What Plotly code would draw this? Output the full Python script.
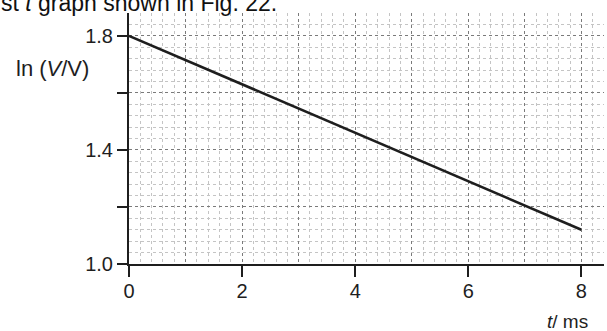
import plotly.graph_objects as go

# straight-line fit of ln(V/V) against time
t_ms = [0, 8]
ln_v = [1.80, 1.12]

x_ticks = [0, 2, 4, 6, 8]
y_ticks = [1.0, 1.2, 1.4, 1.6, 1.8]
y_tick_text = ["1.0", "", "1.4", "", "1.8"]

X_RANGE = [0, 8.4]
Y_RANGE = [1.0, 1.88]

W, H = 607, 331
L, R, T, B = 129, 3, 13, 67
FONT = "Liberation Sans, Arial, Helvetica, sans-serif"
INK = "#1e1e1e"


def px_x(p):
    return (p - L) / (W - L - R)


def px_y(p):
    return (H - B - p) / (H - T - B)


fig = go.Figure()
fig.add_trace(go.Scatter(
    x=t_ms, y=ln_v, mode="lines",
    line=dict(color=INK, width=2.6),
    showlegend=False, hoverinfo="skip",
))
# empty trace so the labelled overlay axes are drawn
fig.add_trace(go.Scatter(x=[], y=[], xaxis="x2", yaxis="y2",
                         showlegend=False, hoverinfo="skip"))

grid_major = "#7a7a7a"
grid_minor = "#c4c4c4"

fig.update_layout(
    width=W, height=H,
    margin=dict(l=L, r=R, t=T, b=B),
    paper_bgcolor="white", plot_bgcolor="white",
    font=dict(family=FONT, size=20, color=INK),
    xaxis=dict(
        range=X_RANGE, dtick=1, tick0=0,
        showgrid=True, gridcolor=grid_major, gridwidth=1, griddash="dot",
        minor=dict(dtick=0.2, tick0=0, showgrid=True, gridcolor=grid_minor,
                   gridwidth=1, griddash="dot"),
        showticklabels=False, ticks="", zeroline=False, showline=False,
    ),
    yaxis=dict(
        range=Y_RANGE, dtick=0.2, tick0=1.0,
        showgrid=True, gridcolor=grid_major, gridwidth=1, griddash="dot",
        minor=dict(dtick=0.04, tick0=1.0, showgrid=True, gridcolor=grid_minor,
                   gridwidth=1, griddash="dot"),
        showticklabels=False, ticks="", zeroline=False, showline=False,
    ),
    xaxis2=dict(
        overlaying="x", anchor="y2", range=X_RANGE,
        tickmode="array", tickvals=x_ticks,
        ticks="outside", ticklen=11, tickwidth=2, tickcolor=INK,
        ticklabelstandoff=-3,
        showline=True, linecolor=INK, linewidth=2,
        showgrid=False, zeroline=False,
        tickfont=dict(family=FONT, size=20, color=INK),
    ),
    yaxis2=dict(
        overlaying="y", anchor="x2", range=Y_RANGE,
        tickmode="array", tickvals=y_ticks, ticktext=y_tick_text,
        ticks="outside", ticklen=10, tickwidth=2, tickcolor=INK,
        showline=True, linecolor=INK, linewidth=2,
        showgrid=False, zeroline=False,
        tickfont=dict(family=FONT, size=20, color=INK),
    ),
    annotations=[
        dict(text="ln (<i>V</i>/V)", xref="paper", yref="paper",
             x=px_x(52.5), y=px_y(68), xanchor="center", yanchor="middle",
             showarrow=False, font=dict(family=FONT, size=22, color=INK)),
        dict(text="<i>t</i>/ ms", xref="paper", yref="paper",
             x=px_x(567), y=px_y(321), xanchor="center", yanchor="middle",
             showarrow=False, font=dict(family=FONT, size=19, color=INK)),
        dict(text="st <i>t</i> graph shown in Fig. 22.", xref="paper", yref="paper",
             x=px_x(-1), y=px_y(3), xanchor="left", yanchor="middle",
             showarrow=False, font=dict(family=FONT, size=23, color="#111")),
    ],
)

fig.write_html("out.html")
